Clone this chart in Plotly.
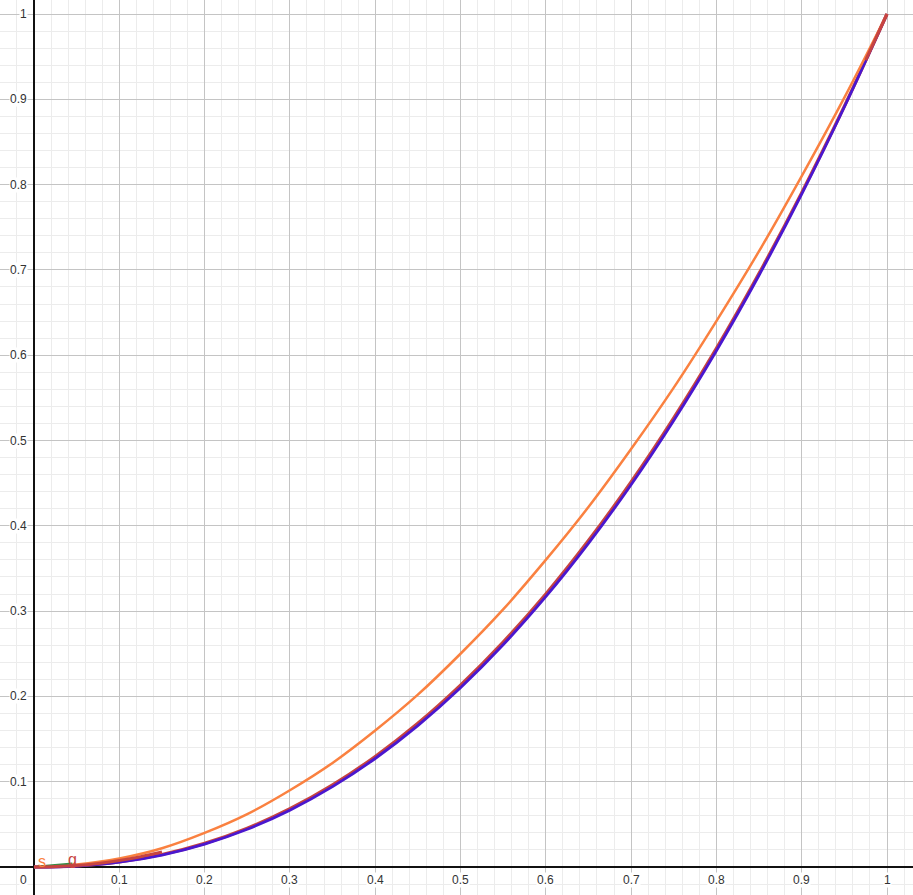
import plotly.graph_objects as go

# data
x_vals = [0, 0.05, 0.1, 0.15, 0.2, 0.25, 0.3, 0.35, 0.4, 0.45, 0.5,
          0.55, 0.6, 0.65, 0.7, 0.75, 0.8, 0.85, 0.9, 0.95, 1.0]
orange_y = [0, 0.003, 0.01, 0.022, 0.04, 0.062, 0.09, 0.122, 0.16, 0.202, 0.25,
            0.302, 0.36, 0.422, 0.49, 0.562, 0.64, 0.722, 0.81, 0.902, 1.0]
purple_y = [0, 0.0012, 0.0056, 0.014, 0.0268, 0.0442, 0.0666, 0.0942, 0.1272, 0.1658, 0.2102,
            0.2605, 0.3169, 0.3794, 0.4482, 0.5235, 0.6053, 0.6937, 0.7889, 0.891, 1.0]
red_y = [0, 0.0013, 0.0059, 0.0146, 0.0277, 0.0455, 0.0683, 0.0962, 0.1296, 0.1685, 0.2132,
         0.2637, 0.3201, 0.3827, 0.4514, 0.5265, 0.608, 0.696, 0.7906, 0.8919, 1.0]
red_low_x = [0.0, 0.025, 0.05, 0.075, 0.1, 0.125, 0.15]
red_low_y = [0.0, 0.0006, 0.0018, 0.0042, 0.0075, 0.012, 0.0175]
red_high_x = [0.975, 0.9875, 1.0]
red_high_y = [0.946, 0.973, 1.0]
green_x = [0.004, 0.045]
green_y = [0.0005, 0.004]
point_labels = ["s", "g"]
point_x = [0.009, 0.045]
point_y = [0.007, 0.009]
tick_vals = [0.1, 0.2, 0.3, 0.4, 0.5, 0.6, 0.7, 0.8, 0.9, 1]
tick_text = ["0.1", "0.2", "0.3", "0.4", "0.5", "0.6", "0.7", "0.8", "0.9", "1"]

ORANGE = "#fa8140"
PURPLE = "#4a17cf"
RED = "#c74440"
GREEN = "#388c46"

fig = go.Figure()
fig.add_trace(go.Scatter(x=x_vals, y=red_y, mode="lines", line=dict(color=RED, width=3.2, shape="spline"), hoverinfo="skip"))
fig.add_trace(go.Scatter(x=x_vals, y=purple_y, mode="lines", line=dict(color=PURPLE, width=2.8, shape="spline"), hoverinfo="skip"))
fig.add_trace(go.Scatter(x=x_vals, y=orange_y, mode="lines", line=dict(color=ORANGE, width=2.5, shape="spline"), hoverinfo="skip"))
fig.add_trace(go.Scatter(x=green_x, y=green_y, mode="lines", line=dict(color=GREEN, width=2), hoverinfo="skip"))
fig.add_trace(go.Scatter(x=red_low_x, y=red_low_y, mode="lines", line=dict(color=RED, width=3, shape="spline"), hoverinfo="skip"))
fig.add_trace(go.Scatter(x=red_high_x, y=red_high_y, mode="lines", line=dict(color=RED, width=3), hoverinfo="skip"))

W, H = 913, 895
x0_px, y0_px, scale = 34, 867, 853.0
xr = [-x0_px / scale, (W - x0_px) / scale]
yr = [-(H - y0_px) / scale, y0_px / scale]

annotations = []
lab_font = dict(family="Liberation Sans, Arial, sans-serif", size=12, color="#333333")
for v, t in zip(tick_vals, tick_text):
    annotations.append(dict(x=v, y=0, xref="x", yref="y", text=t, showarrow=False,
                            xanchor="center", yanchor="top", yshift=-5,
                            font=lab_font, bgcolor="white", borderpad=0))
    annotations.append(dict(x=0, y=v, xref="x", yref="y", text=t, showarrow=False,
                            xanchor="right", yanchor="middle", xshift=-6,
                            font=lab_font, bgcolor="white", borderpad=0))
annotations.append(dict(x=0, y=0, xref="x", yref="y", text="0", showarrow=False,
                        xanchor="right", yanchor="top", xshift=-6, yshift=-5,
                        font=lab_font, bgcolor="white", borderpad=0))
for t, px, py, c in zip(point_labels, point_x, point_y, [ORANGE, RED]):
    annotations.append(dict(x=px, y=py, xref="x", yref="y", text=t, showarrow=False,
                            xanchor="center", yanchor="middle",
                            font=dict(family="Liberation Sans, Arial, sans-serif", size=16, color=c)))

axis_common = dict(showgrid=True, gridcolor="#c4c4c4", gridwidth=1, dtick=0.1, tick0=0,
                   minor=dict(dtick=0.02, showgrid=True, gridcolor="#ececec", gridwidth=1),
                   zeroline=True, zerolinecolor="#111111", zerolinewidth=1.5,
                   showticklabels=False, ticks="", showline=False, fixedrange=True)

fig.update_layout(
    width=W, height=H, margin=dict(l=0, r=0, t=0, b=0),
    paper_bgcolor="white", plot_bgcolor="white", showlegend=False,
    xaxis=dict(range=xr, **axis_common),
    yaxis=dict(range=yr, **axis_common),
    annotations=annotations,
)
fig.write_html("out.html", config={"displayModeBar": False},
               post_script="document.body.style.margin='0';document.body.style.overflow='hidden';")
